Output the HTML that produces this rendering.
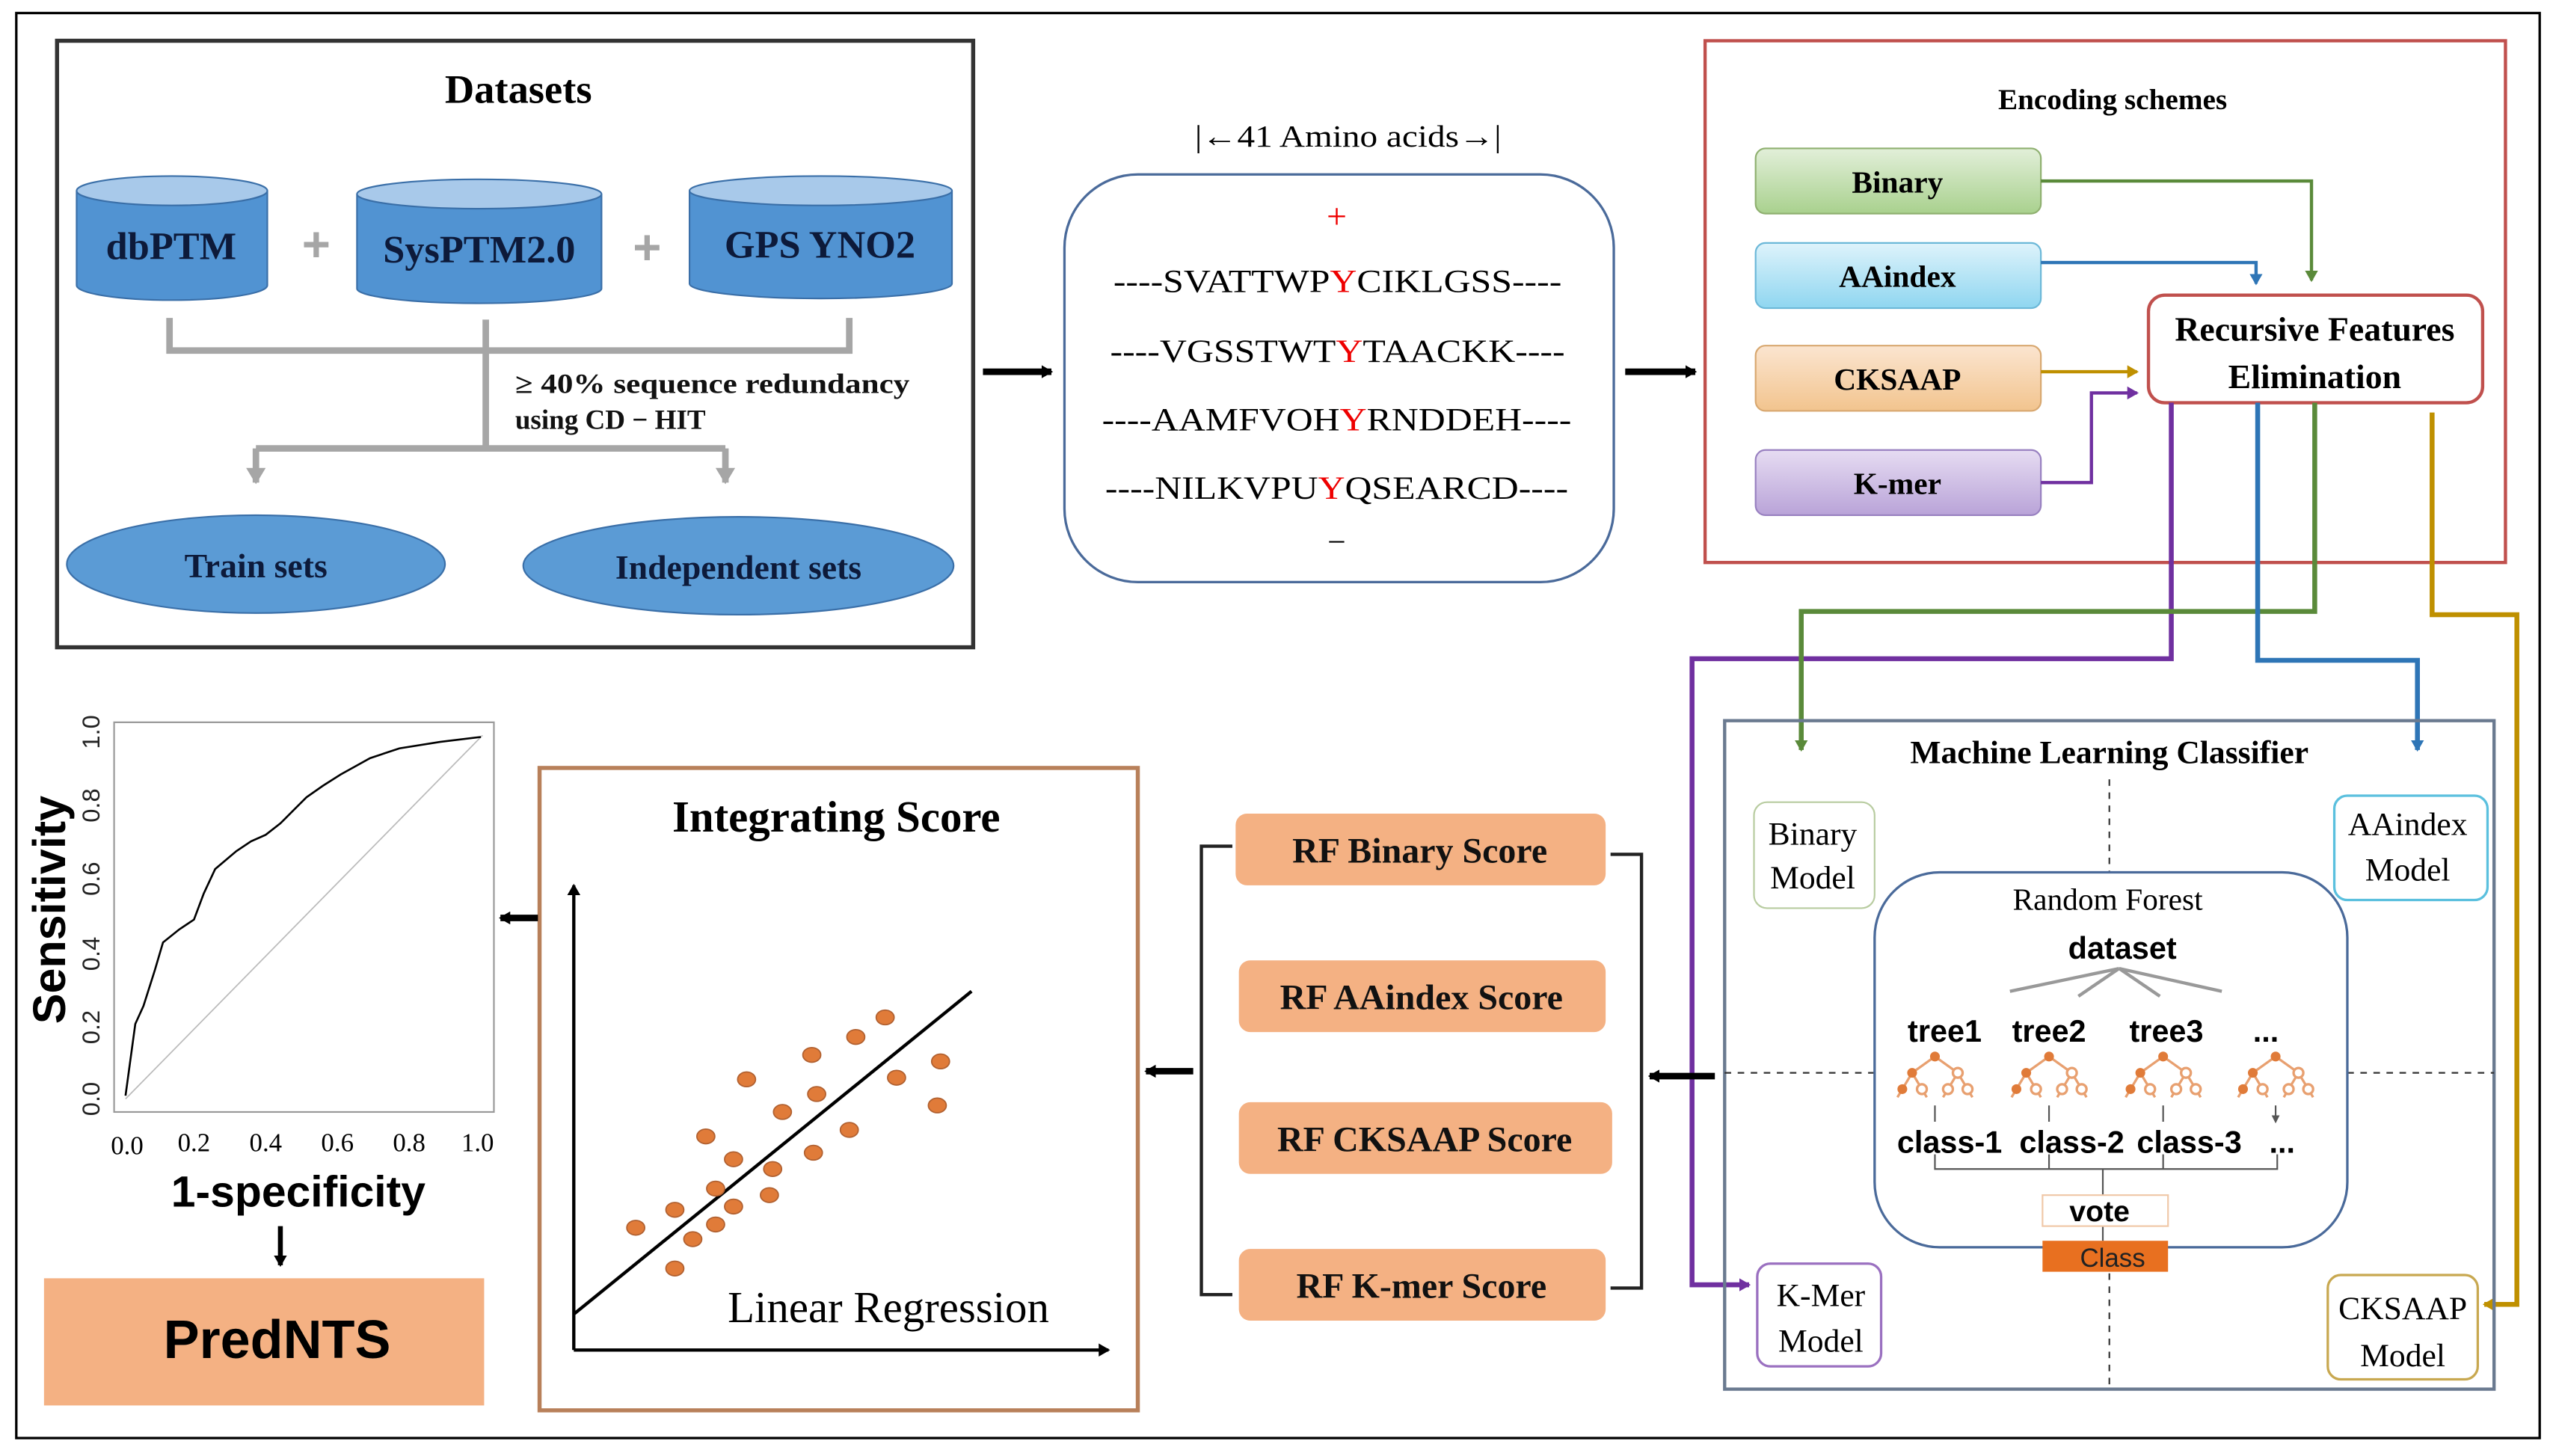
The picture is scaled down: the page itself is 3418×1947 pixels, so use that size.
<!DOCTYPE html>
<html><head><meta charset="utf-8"><style>
html,body{margin:0;padding:0;background:#fff;}
svg{display:block;}
.ser{font-family:"Liberation Serif",serif;}
.san{font-family:"Liberation Sans",sans-serif;}
</style></head><body>
<svg width="3418" height="1947" viewBox="0 0 1568 893" preserveAspectRatio="none" xmlns="http://www.w3.org/2000/svg">
<defs>
<marker id="ab" markerWidth="8" markerHeight="8" refX="6" refY="4" orient="auto" markerUnits="userSpaceOnUse"><path d="M0,0 L7,4 L0,8 Z" fill="#000"/></marker>
<marker id="ag" markerWidth="12" markerHeight="12" refX="9" refY="6" orient="auto" markerUnits="userSpaceOnUse"><path d="M0,0 L10,6 L0,12 Z" fill="#a6a6a6"/></marker>
<marker id="mG" markerWidth="8" markerHeight="8" refX="6" refY="4" orient="auto" markerUnits="userSpaceOnUse"><path d="M0,0 L7,4 L0,8 Z" fill="#5a8a3a"/></marker>
<marker id="mB" markerWidth="8" markerHeight="8" refX="6" refY="4" orient="auto" markerUnits="userSpaceOnUse"><path d="M0,0 L7,4 L0,8 Z" fill="#2e75b6"/></marker>
<marker id="mY" markerWidth="8" markerHeight="8" refX="6" refY="4" orient="auto" markerUnits="userSpaceOnUse"><path d="M0,0 L7,4 L0,8 Z" fill="#bf9000"/></marker>
<marker id="mP" markerWidth="8" markerHeight="8" refX="6" refY="4" orient="auto" markerUnits="userSpaceOnUse"><path d="M0,0 L7,4 L0,8 Z" fill="#7030a0"/></marker>
<marker id="mK" markerWidth="5" markerHeight="5" refX="4" refY="2.5" orient="auto" markerUnits="userSpaceOnUse"><path d="M0,0 L5,2.5 L0,5 Z" fill="#555"/></marker>
<linearGradient id="gG" x1="0" y1="0" x2="0" y2="1"><stop offset="0" stop-color="#e2efd9"/><stop offset="1" stop-color="#a9d18e"/></linearGradient>
<linearGradient id="gB" x1="0" y1="0" x2="0" y2="1"><stop offset="0" stop-color="#def3fb"/><stop offset="1" stop-color="#8fd6f0"/></linearGradient>
<linearGradient id="gO" x1="0" y1="0" x2="0" y2="1"><stop offset="0" stop-color="#fbe5d0"/><stop offset="1" stop-color="#f2c48e"/></linearGradient>
<linearGradient id="gP" x1="0" y1="0" x2="0" y2="1"><stop offset="0" stop-color="#e6dcf2"/><stop offset="1" stop-color="#b9a3d8"/></linearGradient>
<g id="tr" stroke="#e8a070" stroke-width="1.5" fill="none">
<path d="M0,0 L-14,10 L-20,20 M-14,10 L-8,20 M0,0 L14,10 L8,20 M14,10 L20,20 M-20,20 l-3,5 M-8,20 l3,5 M8,20 l-3,5 M20,20 l3,5"/>
<circle cx="0" cy="0" r="3" fill="#e07b39" stroke="none"/>
<circle cx="-14" cy="10" r="3" fill="#e07b39" stroke="none"/>
<circle cx="14" cy="10" r="3" fill="#fff"/>
<circle cx="-20" cy="20" r="3" fill="#e07b39" stroke="none"/>
<circle cx="-8" cy="20" r="3" fill="#fff"/>
<circle cx="8" cy="20" r="3" fill="#fff"/>
<circle cx="20" cy="20" r="3" fill="#fff"/>
</g>
</defs>
<rect x="10" y="8" width="1548" height="874" fill="none" stroke="#000" stroke-width="1.5"/>

<!-- Datasets -->
<rect x="35" y="25" width="562" height="372" fill="none" stroke="#333" stroke-width="2.5"/>
<text x="318" y="63" text-anchor="middle" class="ser" font-weight="bold" font-size="25">Datasets</text>
<g stroke="#3a6fa8" stroke-width="1">
<path d="M47,117 V175 A58,9 0 0 0 164,175 V117" fill="#5193d2"/><ellipse cx="105.5" cy="117" rx="58.5" ry="9" fill="#a8c9ea"/>
<path d="M219,119 V177 A75,9 0 0 0 369,177 V119" fill="#5193d2"/><ellipse cx="294" cy="119" rx="75" ry="9" fill="#a8c9ea"/>
<path d="M423,117 V174 A80,9 0 0 0 584,174 V117" fill="#5193d2"/><ellipse cx="503.5" cy="117" rx="80.5" ry="9" fill="#a8c9ea"/>
</g>
<g class="ser" font-weight="bold" fill="#0d1a3a" text-anchor="middle">
<text x="105" y="159" font-size="24">dbPTM</text>
<text x="294" y="161" font-size="24">SysPTM2.0</text>
<text x="503" y="158" font-size="24">GPS YNO2</text>
</g>
<text x="194" y="160" text-anchor="middle" font-size="30" font-weight="bold" fill="#a6a6a6" class="san">+</text>
<text x="397" y="162" text-anchor="middle" font-size="30" font-weight="bold" fill="#a6a6a6" class="san">+</text>
<g stroke="#a6a6a6" stroke-width="4" fill="none">
<path d="M104,195 V215 H521 V195"/><path d="M298,196 V275"/>
<path d="M157,275 H445"/>
<path d="M157,275 V296" marker-end="url(#ag)"/><path d="M445,275 V296" marker-end="url(#ag)"/>
</g>
<text x="316" y="241" class="ser" font-weight="bold" font-size="17" fill="#111" textLength="242" lengthAdjust="spacingAndGlyphs">≥ 40% sequence redundancy</text>
<text x="316" y="263" class="ser" font-weight="bold" font-size="17" fill="#111">using CD − HIT</text>
<ellipse cx="157" cy="346" rx="116" ry="30" fill="#5b9bd5" stroke="#3a6fa8"/>
<ellipse cx="453" cy="347" rx="132" ry="30" fill="#5b9bd5" stroke="#3a6fa8"/>
<text x="157" y="354" text-anchor="middle" class="ser" font-weight="bold" font-size="21" fill="#0d1a3a">Train sets</text>
<text x="453" y="355" text-anchor="middle" class="ser" font-weight="bold" font-size="21" fill="#0d1a3a">Independent sets</text>

<!-- arrows -->
<line x1="603" y1="228" x2="645" y2="228" stroke="#000" stroke-width="4" marker-end="url(#ab)"/>
<line x1="997" y1="228" x2="1040" y2="228" stroke="#000" stroke-width="4" marker-end="url(#ab)"/>

<!-- sequence -->
<text x="733" y="90" class="ser" font-size="19" textLength="188" lengthAdjust="spacingAndGlyphs">|←41 Amino acids→|</text>
<rect x="653" y="107" width="337" height="250" rx="45" fill="none" stroke="#4a6a9a" stroke-width="1.5"/>
<text x="820" y="140" text-anchor="middle" class="ser" font-size="22" fill="#e00">+</text>
<g class="ser" font-size="20">
<text x="683" y="179" textLength="275" lengthAdjust="spacingAndGlyphs">----SVATTWP<tspan fill="#e00">Y</tspan>CIKLGSS----</text>
<text x="681" y="222" textLength="279" lengthAdjust="spacingAndGlyphs">----VGSSTWT<tspan fill="#e00">Y</tspan>TAACKK----</text>
<text x="676" y="264" textLength="288" lengthAdjust="spacingAndGlyphs">----AAMFVOH<tspan fill="#e00">Y</tspan>RNDDEH----</text>
<text x="678" y="306" textLength="284" lengthAdjust="spacingAndGlyphs">----NILKVPU<tspan fill="#e00">Y</tspan>QSEARCD----</text>
<text x="820" y="339" text-anchor="middle">−</text>
</g>

<!-- Encoding -->
<rect x="1046" y="25" width="491" height="320" fill="none" stroke="#c0504d" stroke-width="2"/>
<text x="1296" y="67" text-anchor="middle" class="ser" font-weight="bold" font-size="18">Encoding schemes</text>
<rect x="1077" y="91" width="175" height="40" rx="6" fill="url(#gG)" stroke="#8fb070"/>
<rect x="1077" y="149" width="175" height="40" rx="6" fill="url(#gB)" stroke="#6cb8d8"/>
<rect x="1077" y="212" width="175" height="40" rx="6" fill="url(#gO)" stroke="#d8a870"/>
<rect x="1077" y="276" width="175" height="40" rx="6" fill="url(#gP)" stroke="#9880c0"/>
<g class="ser" font-weight="bold" font-size="19" text-anchor="middle">
<text x="1164" y="118">Binary</text><text x="1164" y="176">AAindex</text>
<text x="1164" y="239">CKSAAP</text><text x="1164" y="303">K-mer</text>
</g>
<rect x="1318" y="181" width="205" height="66" rx="10" fill="#fff" stroke="#c0504d" stroke-width="2"/>
<text x="1420" y="209" text-anchor="middle" class="ser" font-weight="bold" font-size="21">Recursive Features</text>
<text x="1420" y="238" text-anchor="middle" class="ser" font-weight="bold" font-size="21">Elimination</text>
<g fill="none" stroke-width="2">
<path d="M1252,111 H1418 V172" stroke="#5a8a3a" marker-end="url(#mG)"/>
<path d="M1252,161 H1384 V174" stroke="#2e75b6" marker-end="url(#mB)"/>
<path d="M1252,228 H1311" stroke="#bf9000" marker-end="url(#mY)"/>
<path d="M1252,296 H1283 V241 H1311" stroke="#7030a0" marker-end="url(#mP)"/>
<path d="M1332,247 V404 H1038 V788 H1073" stroke="#7030a0" stroke-width="3" marker-end="url(#mP)"/>
<path d="M1420,247 V375 H1105 V460" stroke="#5a8a3a" stroke-width="3" marker-end="url(#mG)"/>
<path d="M1385,247 V405 H1483 V460" stroke="#2e75b6" stroke-width="3" marker-end="url(#mB)"/>
<path d="M1492,253 V377 H1544 V800 H1524" stroke="#bf9000" stroke-width="3" marker-end="url(#mY)"/>
</g>

<!-- ML classifier -->
<rect x="1058" y="442" width="472" height="410" fill="none" stroke="#6a7a90" stroke-width="2"/>
<text x="1294" y="468" text-anchor="middle" class="ser" font-weight="bold" font-size="20">Machine Learning Classifier</text>
<g stroke="#333" stroke-width="1" stroke-dasharray="4,4">
<line x1="1294" y1="478" x2="1294" y2="535"/><line x1="1294" y1="765" x2="1294" y2="852"/>
<line x1="1058" y1="658" x2="1150" y2="658"/><line x1="1440" y1="658" x2="1530" y2="658"/>
</g>
<rect x="1150" y="535" width="290" height="230" rx="40" fill="#fff" stroke="#4a6a9a" stroke-width="1.5"/>
<rect x="1076" y="492" width="74" height="65" rx="8" fill="#fff" stroke="#b8cca0"/>
<rect x="1432" y="488" width="94" height="64" rx="8" fill="#fff" stroke="#5bc0de" stroke-width="1.5"/>
<rect x="1078" y="775" width="76" height="63" rx="8" fill="#fff" stroke="#9a70c0" stroke-width="1.5"/>
<rect x="1428" y="782" width="92" height="64" rx="8" fill="#fff" stroke="#c8a850" stroke-width="1.5"/>
<g class="ser" font-size="20" text-anchor="middle">
<text x="1112" y="518">Binary</text><text x="1112" y="545">Model</text>
<text x="1477" y="512">AAindex</text><text x="1477" y="540">Model</text>
<text x="1117" y="801">K-Mer</text><text x="1117" y="829">Model</text>
<text x="1474" y="809">CKSAAP</text><text x="1474" y="838">Model</text>
<text x="1293" y="558" font-size="19">Random Forest</text>
</g>
<text x="1302" y="588" text-anchor="middle" class="san" font-weight="bold" font-size="19">dataset</text>
<g stroke="#999" stroke-width="2" fill="none">
<path d="M1300,594 L1233,608 M1300,594 L1275,611 M1300,594 L1325,611 M1300,594 L1363,608"/>
</g>
<g class="san" font-weight="bold" font-size="19" text-anchor="middle">
<text x="1193" y="639">tree1</text><text x="1257" y="639">tree2</text><text x="1329" y="639">tree3</text><text x="1390" y="639">...</text>
<text x="1196" y="707">class-1</text><text x="1271" y="707">class-2</text><text x="1343" y="707">class-3</text><text x="1400" y="707">...</text>
</g>
<use href="#tr" x="1187" y="648"/><use href="#tr" x="1257" y="648"/><use href="#tr" x="1327" y="648"/><use href="#tr" x="1396" y="648"/>
<g stroke="#555" stroke-width="1" fill="none">
<path d="M1187,678 V688 M1257,678 V688 M1327,678 V688 M1396,678 V688" marker-end="url(#mK)"/>
<path d="M1187,708 V717 H1397 V708 M1257,708 V717 M1327,708 V717 M1290,717 V733 M1290,752 V761"/>
</g>
<rect x="1253" y="733" width="77" height="19" fill="#fff" stroke="#f0c8a8"/>
<text x="1288" y="749" text-anchor="middle" class="san" font-weight="bold" font-size="18">vote</text>
<rect x="1253" y="761" width="77" height="19" fill="#e87020"/>
<text x="1296" y="777" text-anchor="middle" class="san" font-size="16" fill="#222">Class</text>

<line x1="1052" y1="660" x2="1012" y2="660" stroke="#000" stroke-width="4" marker-end="url(#ab)"/>

<!-- RF scores -->
<g fill="#f4b183">
<rect x="758" y="499" width="227" height="44" rx="7"/>
<rect x="760" y="589" width="225" height="44" rx="7"/>
<rect x="760" y="676" width="229" height="44" rx="7"/>
<rect x="760" y="766" width="225" height="44" rx="7"/>
</g>
<g class="ser" font-weight="bold" font-size="22" text-anchor="middle" fill="#111">
<text x="871" y="529">RF Binary Score</text>
<text x="872" y="619">RF AAindex Score</text>
<text x="874" y="706">RF CKSAAP Score</text>
<text x="872" y="796">RF K-mer Score</text>
</g>
<g stroke="#222" stroke-width="2" fill="none">
<path d="M756,519 H737 V794 H756"/><path d="M988,524 H1007 V790 H988"/>
</g>
<line x1="732" y1="657" x2="703" y2="657" stroke="#000" stroke-width="4" marker-end="url(#ab)"/>

<!-- Integrating score -->
<rect x="331" y="471" width="367" height="394" fill="none" stroke="#b8805a" stroke-width="2.5"/>
<text x="513" y="510" text-anchor="middle" class="ser" font-weight="bold" font-size="27">Integrating Score</text>
<line x1="352" y1="828" x2="352" y2="543" stroke="#000" stroke-width="2" marker-end="url(#ab)"/>
<line x1="352" y1="828" x2="680" y2="828" stroke="#000" stroke-width="2" marker-end="url(#ab)"/>
<line x1="352" y1="806" x2="596" y2="608" stroke="#000" stroke-width="2"/>
<g fill="#e07b39" stroke="#b06030" stroke-width="0.8">
<ellipse cx="390" cy="753" rx="5.5" ry="4.5"/><ellipse cx="414" cy="742" rx="5.5" ry="4.5"/><ellipse cx="414" cy="778" rx="5.5" ry="4.5"/><ellipse cx="425" cy="760" rx="5.5" ry="4.5"/><ellipse cx="439" cy="751" rx="5.5" ry="4.5"/><ellipse cx="439" cy="729" rx="5.5" ry="4.5"/><ellipse cx="433" cy="697" rx="5.5" ry="4.5"/><ellipse cx="450" cy="711" rx="5.5" ry="4.5"/><ellipse cx="450" cy="740" rx="5.5" ry="4.5"/><ellipse cx="458" cy="662" rx="5.5" ry="4.5"/><ellipse cx="472" cy="733" rx="5.5" ry="4.5"/><ellipse cx="474" cy="717" rx="5.5" ry="4.5"/><ellipse cx="480" cy="682" rx="5.5" ry="4.5"/><ellipse cx="499" cy="707" rx="5.5" ry="4.5"/><ellipse cx="501" cy="671" rx="5.5" ry="4.5"/><ellipse cx="498" cy="647" rx="5.5" ry="4.5"/><ellipse cx="521" cy="693" rx="5.5" ry="4.5"/><ellipse cx="525" cy="636" rx="5.5" ry="4.5"/><ellipse cx="543" cy="624" rx="5.5" ry="4.5"/><ellipse cx="550" cy="661" rx="5.5" ry="4.5"/><ellipse cx="575" cy="678" rx="5.5" ry="4.5"/><ellipse cx="577" cy="651" rx="5.5" ry="4.5"/>
</g>
<text x="545" y="811" text-anchor="middle" class="ser" font-size="27">Linear Regression</text>
<line x1="330" y1="563" x2="307" y2="563" stroke="#000" stroke-width="4" marker-end="url(#ab)"/>

<!-- ROC -->
<rect x="70" y="443" width="233" height="239" fill="none" stroke="#999" stroke-width="1"/>
<line x1="77" y1="674" x2="296" y2="451" stroke="#bbb" stroke-width="0.8"/>
<path d="M77,672 L83,628 L88,617 L95,595 L100,578 L110,570 L119,564 L125,548 L132,533 L145,522 L154,516 L163,512 L172,505 L180,497 L188,489 L198,482 L209,475 L218,470 L227,465 L236,462 L245,459 L270,455 L295,452" fill="none" stroke="#000" stroke-width="1.2"/>
<g class="ser" font-size="16" text-anchor="middle">
<text x="78" y="708">0.0</text><text x="119" y="706">0.2</text><text x="163" y="706">0.4</text><text x="207" y="706">0.6</text><text x="251" y="706">0.8</text><text x="293" y="706">1.0</text>
</g>
<g class="san" font-size="15" text-anchor="middle" fill="#222">
<text transform="translate(61,674) rotate(-90)">0.0</text>
<text transform="translate(61,630) rotate(-90)">0.2</text>
<text transform="translate(61,585) rotate(-90)">0.4</text>
<text transform="translate(61,539) rotate(-90)">0.6</text>
<text transform="translate(61,494) rotate(-90)">0.8</text>
<text transform="translate(61,449) rotate(-90)">1.0</text>
</g>
<text transform="translate(40,558) rotate(-90)" text-anchor="middle" class="san" font-weight="bold" font-size="28">Sensitivity</text>
<text x="183" y="740" text-anchor="middle" class="san" font-weight="bold" font-size="27">1-specificity</text>
<line x1="172" y1="752" x2="172" y2="776" stroke="#000" stroke-width="3" marker-end="url(#ab)"/>
<rect x="27" y="784" width="270" height="78" fill="#f4b183"/>
<text x="170" y="833" text-anchor="middle" class="san" font-weight="bold" font-size="33">PredNTS</text>
</svg>
</body></html>
